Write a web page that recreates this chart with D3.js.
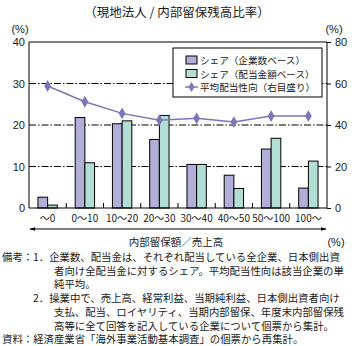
<!DOCTYPE html>
<html>
<head>
<meta charset="utf-8">
<script src="https://cdn.jsdelivr.net/npm/d3@7"></script>
<style>
  html, body { margin: 0; padding: 0; background: #fff; }
  svg { display: block; }
  text { font-family: "Noto Sans CJK JP", "Noto Sans", sans-serif; fill: #1a1a1a; }
  .num { font-family: "Liberation Sans", Arial, sans-serif; }
</style>
</head>
<body>
<svg id="chart" width="355" height="346"></svg>
<script>
// Categories: retained earnings / sales ratio bands (%)
const categories = ["～0", "0～10", "10～20", "20～30", "30～40", "40～50", "50～100", "100～"];
// Share by number of companies (%)
const shareCompanies = [2.6, 21.8, 20.3, 16.5, 10.5, 7.9, 14.2, 4.8];
// Share by dividend amount (%)
const shareDividends = [0.7, 10.9, 21.0, 22.3, 10.5, 4.7, 16.8, 11.3];
// Average payout ratio (%; right axis)
const payoutRatio = [58.8, 51.2, 45.6, 42.3, 43.2, 41.4, 44.3, 44.3];

const leftTicks = [0, 10, 20, 30, 40];
const rightTicks = [0, 20, 40, 60, 80];
const seriesNames = ["シェア（企業数ベース）", "シェア（配当金額ベース）", "平均配当性向（右目盛り）"];
const colors = { companies: "#b1aed7", dividends: "#b2ded5", line: "#7c76b9" };

const svg = d3.select("#chart");
const plot = { left: 29, right: 327, top: 42, bottom: 208 };

const x0 = d3.scaleBand().domain(categories).range([plot.left, plot.right])
  .paddingInner(0.48).paddingOuter(0.24);
const x1 = d3.scaleBand().domain(["companies", "dividends"]).range([0, x0.bandwidth()]);
const yL = d3.scaleLinear().domain([0, 40]).range([plot.bottom, plot.top]);
const yR = d3.scaleLinear().domain([0, 80]).range([plot.bottom, plot.top]);

// Title
svg.append("text").attr("x", 177).attr("y", 17).attr("text-anchor", "middle")
  .style("font-size", "12.5px").text("（現地法人 / 内部留保残高比率）");

// Unit labels
svg.append("text").attr("class", "num").attr("x", 20).attr("y", 33).attr("text-anchor", "middle")
  .style("font-size", "11px").text("(%)");
svg.append("text").attr("class", "num").attr("x", 334).attr("y", 33).attr("text-anchor", "middle")
  .style("font-size", "11px").text("(%)");

// Dash-dot gridlines
svg.append("g").selectAll("line").data(leftTicks.filter(d => d > 0 && d < 40)).join("line")
  .attr("x1", plot.left).attr("x2", plot.right)
  .attr("y1", d => yL(d)).attr("y2", d => yL(d))
  .attr("stroke", "#000").attr("stroke-width", 1)
  .attr("stroke-dasharray", "7,2,1.5,2");

// Plot frame (top, left, right edges)
svg.append("path")
  .attr("d", `M${plot.left},${plot.bottom}V${plot.top}H${plot.right}V${plot.bottom}`)
  .attr("fill", "none").attr("stroke", "#000").attr("stroke-width", 1);

// Left axis labels
svg.append("g").selectAll("text").data(leftTicks).join("text")
  .attr("class", "num").attr("x", plot.left - 4).attr("y", d => yL(d) + 4)
  .attr("text-anchor", "end").style("font-size", "11px").text(d => d);

// Right axis with outward ticks
const rightAxis = d3.axisRight(yR).tickValues(rightTicks).tickSize(4).tickPadding(4);
const gR = svg.append("g").attr("transform", `translate(${plot.right},0)`).call(rightAxis);
gR.select(".domain").remove();
gR.selectAll("text").attr("class", "num").style("font-size", "11px")
  .style("font-family", "'Liberation Sans', Arial, sans-serif").attr("fill", "#1a1a1a");

// Bars
const groups = svg.append("g").selectAll("g").data(categories).join("g")
  .attr("transform", d => `translate(${x0(d)},0)`);
groups.each(function(cat, i) {
  const g = d3.select(this);
  const vals = [
    { key: "companies", v: shareCompanies[i] },
    { key: "dividends", v: shareDividends[i] }
  ];
  g.selectAll("rect").data(vals).join("rect")
    .attr("x", d => x1(d.key)).attr("width", x1.bandwidth())
    .attr("y", d => yL(d.v)).attr("height", d => yL(0) - yL(d.v))
    .attr("fill", d => colors[d.key]).attr("stroke", "#000").attr("stroke-width", 1);
});

// Baseline and category ticks
svg.append("line").attr("x1", plot.left).attr("x2", plot.right)
  .attr("y1", plot.bottom).attr("y2", plot.bottom).attr("stroke", "#000");
const step = x0.step();
svg.append("g").selectAll("line").data(d3.range(1, categories.length)).join("line")
  .attr("x1", d => plot.left + d * step).attr("x2", d => plot.left + d * step)
  .attr("y1", plot.bottom).attr("y2", plot.bottom - 5).attr("stroke", "#000");

// Category labels
svg.append("g").selectAll("text").data(categories).join("text")
  .attr("x", d => x0(d) + x0.bandwidth() / 2).attr("y", 222)
  .attr("text-anchor", "middle").style("font-size", "10px").text(d => d);

// Payout ratio line
const cx = i => x0(categories[i]) + x0.bandwidth() / 2;
svg.append("path").datum(payoutRatio)
  .attr("d", d3.line().x((d, i) => cx(i)).y(d => yR(d)))
  .attr("fill", "none").attr("stroke", colors.line).attr("stroke-width", 1.5);
svg.append("g").selectAll("path").data(payoutRatio).join("path")
  .attr("d", d3.symbol(d3.symbolDiamond, 40))
  .attr("transform", (d, i) => `translate(${cx(i)},${yR(d)})`)
  .attr("fill", colors.line);

// Legend
const lg = svg.append("g").attr("transform", "translate(173,48)");
lg.append("rect").attr("width", 149).attr("height", 49)
  .attr("fill", "#fff").attr("stroke", "#000");
[0, 1].forEach(i => {
  lg.append("rect").attr("x", 13).attr("y", 8 + i * 13.5).attr("width", 11).attr("height", 8)
    .attr("fill", i === 0 ? colors.companies : colors.dividends).attr("stroke", "#000");
});
lg.append("line").attr("x1", 12).attr("x2", 25).attr("y1", 39).attr("y2", 39)
  .attr("stroke", colors.line).attr("stroke-width", 1.5);
lg.append("path").attr("d", d3.symbol(d3.symbolDiamond, 30))
  .attr("transform", "translate(18.5,39)").attr("fill", colors.line);
lg.selectAll("text.lab").data(seriesNames).join("text").attr("class", "lab")
  .attr("x", 27).attr("y", (d, i) => 16 + i * 13.5)
  .style("font-size", "9.6px").text(d => d);

// Axis title with double-headed arrow
const defs = svg.append("defs");
defs.append("marker").attr("id", "arr").attr("viewBox", "0 0 10 10")
  .attr("refX", 9).attr("refY", 5).attr("markerWidth", 6).attr("markerHeight", 6)
  .attr("orient", "auto-start-reverse")
  .append("path").attr("d", "M0,2L10,5L0,8Z").attr("fill", "#000");
svg.append("line").attr("x1", 30).attr("x2", 326).attr("y1", 229).attr("y2", 229)
  .attr("stroke", "#000").attr("stroke-width", 1)
  .attr("marker-start", "url(#arr)").attr("marker-end", "url(#arr)");
svg.append("text").attr("x", 176).attr("y", 246).attr("text-anchor", "middle")
  .style("font-size", "10.5px").text("内部留保額／売上高");
svg.append("text").attr("class", "num").attr("x", 336).attr("y", 246).attr("text-anchor", "middle")
  .style("font-size", "11px").text("(%)");

// Notes
const lineH = 13.7;
const notes = [
  { x: 2, t: "備考：", row: 0 },
  { x: 33, t: "1．企業数、配当金は、それぞれ配当している全企業、日本側出資", row: 0 },
  { x: 54, t: "者向け全配当金に対するシェア。平均配当性向は該当企業の単", row: 1 },
  { x: 54, t: "純平均。", row: 2 },
  { x: 33, t: "2．操業中で、売上高、経常利益、当期純利益、日本側出資者向け", row: 3 },
  { x: 54, t: "支払、配当、ロイヤリティ、当期内部留保、年度末内部留保残", row: 4 },
  { x: 54, t: "高等に全て回答を記入している企業について個票から集計。", row: 5 },
  { x: 2, t: "資料：経済産業省「海外事業活動基本調査」の個票から再集計。", row: 6 }
];
svg.append("g").selectAll("text").data(notes).join("text")
  .attr("x", d => d.x).attr("y", d => 261 + d.row * lineH)
  .style("font-size", "10.4px").text(d => d.t);
</script>
</body>
</html>
